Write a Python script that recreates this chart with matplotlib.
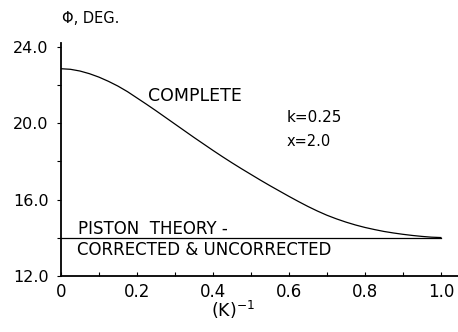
import matplotlib
matplotlib.use("Agg")
import matplotlib.pyplot as plt
from matplotlib.ticker import MultipleLocator

# values
k_inv = [0.0, 0.025, 0.05, 0.075, 0.1, 0.125, 0.15, 0.175, 0.2, 0.225, 0.25,
         0.275, 0.3, 0.325, 0.35, 0.375, 0.4, 0.425, 0.45, 0.475, 0.5,
         0.525, 0.55, 0.575, 0.6, 0.625, 0.65, 0.675, 0.7, 0.725, 0.75,
         0.775, 0.8, 0.825, 0.85, 0.875, 0.9, 0.925, 0.95, 0.975, 1.0]
phi_complete = [22.86, 22.83, 22.74, 22.6, 22.42, 22.2, 21.95, 21.66, 21.33, 21.0, 20.66,
                20.31, 19.96, 19.61, 19.26, 18.92, 18.58, 18.25, 17.93, 17.62, 17.32,
                17.02, 16.73, 16.45, 16.17, 15.9, 15.64, 15.4, 15.18, 14.99, 14.82,
                14.67, 14.54, 14.43, 14.33, 14.25, 14.18, 14.12, 14.07, 14.03, 14.01]
phi_piston = 14.0
x_ticks = [0.0, 0.2, 0.4, 0.6, 0.8, 1.0]
x_tick_labels = ["0", "0.2", "0.4", "0.6", "0.8", "1.0"]
y_ticks = [12.0, 16.0, 20.0, 24.0]
y_tick_labels = ["12.0", "16.0", "20.0", "24.0"]

plt.rcParams["font.family"] = ["DejaVu Sans"]

fig = plt.figure(figsize=(4.58, 3.32), dpi=100)
ax = fig.add_axes([0.133, 0.169, 0.867, 0.701])

ax.plot(k_inv, phi_complete, color="black", lw=0.9)
ax.plot([k_inv[0], k_inv[-1]], [phi_piston, phi_piston], color="black", lw=0.9)

ax.set_xlim(0, 1.045)
ax.set_ylim(12, 24.2)
for s in ["top", "right"]:
    ax.spines[s].set_visible(False)
for s in ["left", "bottom"]:
    ax.spines[s].set_linewidth(1.3)

ax.set_xticks(x_ticks)
ax.set_xticklabels(x_tick_labels)
ax.set_yticks(y_ticks)
ax.set_yticklabels(y_tick_labels)
ax.xaxis.set_minor_locator(MultipleLocator(0.1))
ax.yaxis.set_minor_locator(MultipleLocator(2.0))
ax.tick_params(axis="x", which="both", direction="in", length=3, width=0.8,
               labelsize=12, pad=5)
ax.tick_params(axis="y", which="both", direction="out", length=3, width=0.8,
               labelsize=11.5, pad=6)

ax.set_xlabel("(K)$^{-1}$", fontsize=12.5)
ax.xaxis.set_label_coords(0.433, -0.1)

fig.text(0.135, 0.945, "Φ, DEG.", fontsize=10.5, ha="left", va="center")

ax.text(0.229, 21.45, "COMPLETE", fontsize=12.5, ha="left", va="center")
ax.text(0.595, 20.28, "k=0.25", fontsize=11, ha="left", va="center")
ax.text(0.593, 19.03, "x=2.0", fontsize=10.5, ha="left", va="center")
ax.text(0.045, 14.47, "PISTON  THEORY -", fontsize=12, ha="left", va="center")
ax.text(0.042, 13.37, "CORRECTED & UNCORRECTED", fontsize=12, ha="left", va="center")

fig.savefig("out.png", dpi=100)
